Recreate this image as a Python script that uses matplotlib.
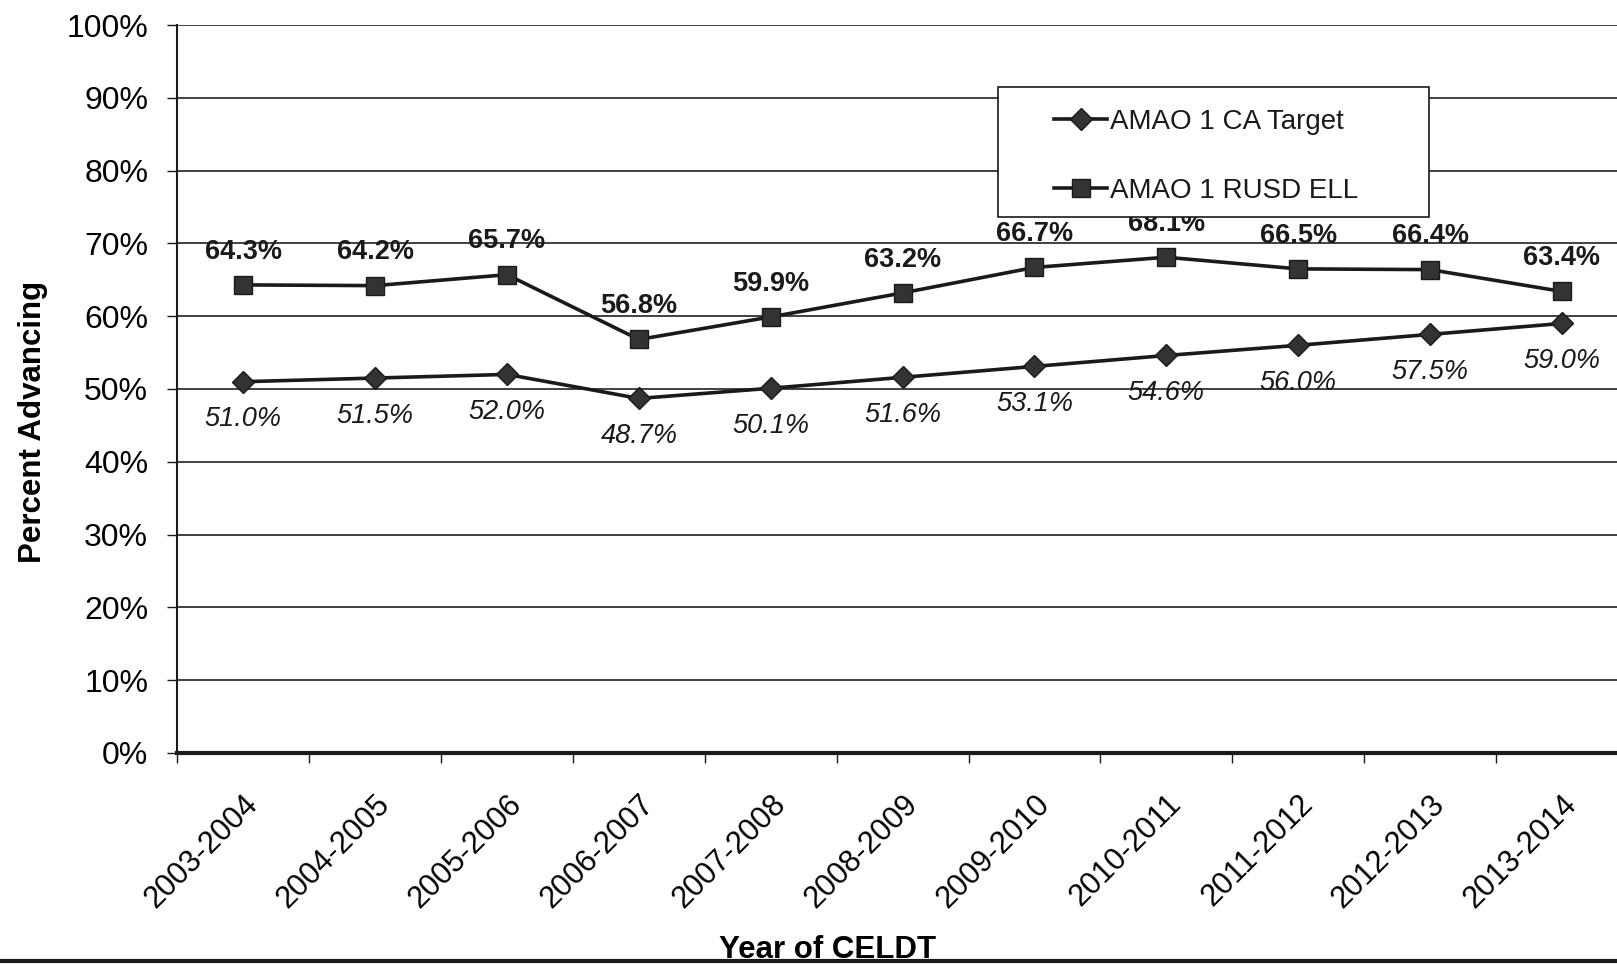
#!/usr/bin/env python3
"""AMAO 1 percent advancing by CELDT year: state target vs. district ELL."""
import matplotlib
matplotlib.use("Agg")
import matplotlib.pyplot as plt
from matplotlib.lines import Line2D
from matplotlib.patches import Rectangle
from matplotlib.ticker import FixedLocator, PercentFormatter
from matplotlib.transforms import ScaledTranslation

YEARS = ["2003-2004", "2004-2005", "2005-2006", "2006-2007", "2007-2008",
         "2008-2009", "2009-2010", "2010-2011", "2011-2012", "2012-2013",
         "2013-2014"]
CA_TARGET = [51.0, 51.5, 52.0, 48.7, 50.1, 51.6, 53.1, 54.6, 56.0, 57.5, 59.0]
RUSD_ELL = [64.3, 64.2, 65.7, 56.8, 59.9, 63.2, 66.7, 68.1, 66.5, 66.4, 63.4]

INK = "#1a1a1a"
FONT = "Liberation Sans"

plt.rcParams.update({"font.family": FONT, "text.color": INK})


def main():
    fig = plt.figure(figsize=(16.17, 9.64), dpi=100)
    ax = fig.add_axes([0.1097, 0.219, 0.897, 0.755])

    x = list(range(len(YEARS)))
    ax.plot(x, CA_TARGET, color=INK, lw=2.6, marker="D", ms=11,
            mfc="#333333", mec=INK, label="AMAO 1 CA Target", zorder=3)
    ax.plot(x, RUSD_ELL, color=INK, lw=2.6, marker="s", ms=13,
            mfc="#333333", mec=INK, label="AMAO 1 RUSD ELL", zorder=3)

    for xi, v in zip(x, RUSD_ELL):
        ax.annotate(f"{v:.1f}%", (xi, v), xytext=(0, 24),
                    textcoords="offset points", ha="center", va="center",
                    fontsize=19.5, fontweight="bold", zorder=2)
    for xi, v in zip(x, CA_TARGET):
        ax.annotate(f"{v:.1f}%", (xi, v), xytext=(0, -27),
                    textcoords="offset points", ha="center", va="center",
                    fontsize=19.5, fontstyle="italic", zorder=2)

    ax.set_xlim(-0.5, len(YEARS) - 0.5)
    ax.set_ylim(0, 100)
    ax.set_yticks(range(0, 101, 10))
    ax.yaxis.set_major_formatter(PercentFormatter(decimals=0))
    ax.grid(True, axis="y", color="#333333", lw=1.3)
    ax.set_axisbelow(True)

    # year labels hang at 45 degrees, their top end under the category
    ax.set_xticks(x)
    ax.set_xticklabels(YEARS, rotation=45, ha="right", va="top",
                       rotation_mode="anchor", fontsize=22)
    shift = ScaledTranslation(-6 / 72, 0, fig.dpi_scale_trans)
    for lbl in ax.get_xticklabels():
        lbl.set_transform(lbl.get_transform() + shift)
    ax.xaxis.set_minor_locator(FixedLocator([i - 0.5 for i in x]))
    ax.tick_params(axis="x", which="major", length=0, pad=26)
    ax.tick_params(axis="x", which="minor", length=7, width=1, color=INK)
    ax.tick_params(axis="y", length=7, width=1, color=INK, pad=14,
                   labelsize=23)

    for side in ("top", "right"):
        ax.spines[side].set_visible(False)
    ax.spines["left"].set_color(INK)
    ax.spines["left"].set_linewidth(1.5)
    ax.spines["bottom"].set_color(INK)
    ax.spines["bottom"].set_linewidth(3)

    ax.set_ylabel("Percent Advancing", fontsize=22.5, fontweight="bold")
    ax.yaxis.set_label_coords(-0.089, 0.4545)
    ax.set_xlabel("Year of CELDT", fontsize=22.5, fontweight="bold")
    ax.xaxis.set_label_coords(0.448, -0.25)

    # legend box drawn by hand so its side padding can be wider than its top
    ax.add_patch(Rectangle((0.566, 0.736), 0.297, 0.179,
                           transform=ax.transAxes, fc="white", ec=INK,
                           lw=1.2, zorder=4, clip_on=False))
    leg = ax.legend(loc="upper left", bbox_to_anchor=(0.6046, 0.8845),
                    fontsize=20, frameon=False, handlelength=1.9,
                    handletextpad=0.1, labelspacing=1.53, borderpad=0,
                    borderaxespad=0)
    leg.set_zorder(5)

    # heavy rule along the bottom of the page
    fig.add_artist(Line2D([0, 1], [0.003, 0.003], transform=fig.transFigure,
                          color=INK, lw=3))

    fig.savefig("out.png", dpi=100, facecolor="white")


if __name__ == "__main__":
    main()
